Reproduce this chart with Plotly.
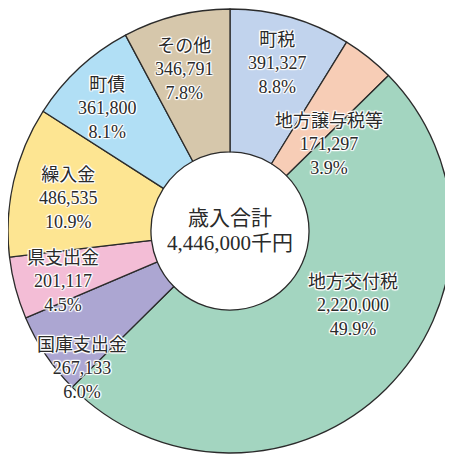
import math
import plotly.graph_objects as go

# ---- data ----
categories = ["町税", "地方譲与税等", "地方交付税", "国庫支出金", "県支出金", "繰入金", "町債", "その他"]
values = [391327, 171297, 2220000, 267133, 201117, 486535, 361800, 346791]
total_label = "歳入合計"
total_unit = "千円"

# ---- styles ----
colors = ["#c1d3ed", "#f7cdb6", "#a3d5c0", "#aca6d2", "#f3bdd6", "#fde592", "#b1dff5", "#d6c7ab"]
OFF = 8  # page body margin
W, H = 453 - OFF, 454 - OFF
# desired on-screen pie box (px), converted to figure coords
dom_px_x = (8 - OFF, 452 - OFF)
dom_px_y = (9 - OFF, 453 - OFF)
serif = "Liberation Serif, DejaVu Serif, Noto Sans CJK JP, serif"
halo = ("1px 1px 1px #fff, -1px -1px 1px #fff, 1px -1px 1px #fff, -1px 1px 1px #fff, "
        "0 1px 1px #fff, 0 -1px 1px #fff, 1px 0 1px #fff, -1px 0 1px #fff")

# label placement tweaks (angle offset in degrees, radius in px)
default_r = 170
label_adjust = {
    "町税": (0.0, 174),
    "地方譲与税等": (10.3, 131),
    "地方交付税": (-14.1, 144),
    "国庫支出金": (-9.0, 202),
    "県支出金": (-2.0, 175),
    "繰入金": (-1.6, 165),
    "町債": (-2.2, 173),
    "その他": (-1.5, 168),
}

total = sum(values)

fig = go.Figure(go.Pie(
    labels=categories,
    values=values,
    sort=False,
    direction="clockwise",
    rotation=0,
    hole=0.356,
    marker=dict(colors=colors, line=dict(color="#2b2b2b", width=1.3)),
    textinfo="none",
    hoverinfo="label+value+percent",
    showlegend=False,
    domain=dict(x=[dom_px_x[0] / W, dom_px_x[1] / W],
                y=[1 - dom_px_y[1] / H, 1 - dom_px_y[0] / H]),
))

cx = (dom_px_x[0] + dom_px_x[1]) / 2
cy = (dom_px_y[0] + dom_px_y[1]) / 2

annotations = []
cum = 0
for cat, v in zip(categories, values):
    mid = (cum + v / 2) / total * 360
    cum += v
    d_ang, r = label_adjust.get(cat, (0.0, default_r))
    ang = math.radians(mid + d_ang)
    x_px = cx + r * math.sin(ang)
    y_px = cy - r * math.cos(ang)
    pct = v / total * 100
    text = f"{cat}<br>{v:,}<br>{pct:.1f}%"
    annotations.append(dict(
        x=x_px / W, y=1 - y_px / H, xref="paper", yref="paper",
        text=text, showarrow=False, xanchor="center", yanchor="middle",
        font=dict(family=serif, size=18, color="#2a2a2a", shadow=halo),
        align="center",
    ))

annotations.append(dict(
    x=cx / W, y=1 - cy / H, xref="paper", yref="paper",
    text=total_label, showarrow=False, xanchor="center", yanchor="middle",
    yshift=13, font=dict(family=serif, size=21, color="#2a2a2a"),
))
annotations.append(dict(
    x=cx / W, y=1 - cy / H, xref="paper", yref="paper",
    text=f"{total:,}{total_unit}", showarrow=False, xanchor="center", yanchor="middle",
    yshift=-12, font=dict(family=serif, size=21, color="#2a2a2a"),
))

fig.update_layout(
    width=W, height=H,
    margin=dict(l=0, r=0, t=0, b=0),
    paper_bgcolor="white",
    plot_bgcolor="white",
    annotations=annotations,
)

fig.write_html("out.html")
